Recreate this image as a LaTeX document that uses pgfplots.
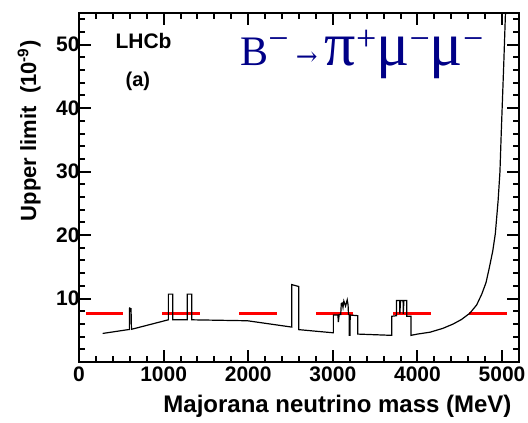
\documentclass[border=0pt]{standalone}
\usepackage{fontspec}
\setmainfont{Liberation Sans}
\newfontfamily\tnr{Liberation Serif}
\newfontfamily\dvs{DejaVu Serif}
\usepackage{pgfplots}
\pgfplotsset{compat=1.18}
\definecolor{navyb}{RGB}{0,0,135}
\newcommand{\sups}[1]{\raisebox{15pt}{\fontsize{36}{36}\selectfont #1}}
\begin{document}
\begin{tikzpicture}
\begin{axis}[
  scale only axis, width=440pt, height=349pt,
  xmin=0, xmax=5200, ymin=0, ymax=55,
  xtick={0,1000,...,5000}, ytick={10,20,...,50},
  minor xtick={0,200,...,5200}, minor ytick={0,2,...,54},
  tick align=inside,
  major tick length=12pt, minor tick length=6pt,
  every major tick/.style={line width=2pt, black},
  every minor tick/.style={line width=2pt, black},
  axis line style={line width=2.5pt},
  /pgf/number format/assume math mode=true,
  /pgf/number format/1000 sep={},
  ticklabel style={font=\bfseries\fontsize{21}{21}\selectfont},
  xticklabel style={yshift=-1pt},
  yticklabel style={xshift=4pt},
  xlabel={Majorana neutrino mass (MeV)},
  ylabel={Upper limit\ \ (10\textsuperscript{-9})},
  xlabel style={at={(axis description cs:0.991,-0.146)}, anchor=base east, font=\bfseries\fontsize{24}{24}\selectfont},
  ylabel style={at={(axis description cs:-0.0977,0.931)}, anchor=base east, rotate=0, font=\bfseries\fontsize{22}{22}\selectfont},
  unbounded coords=jump,
  clip=true,
]
\addplot[red, line width=3pt] coordinates {
 (83,7.7) (520,7.7) (nan,nan)
 (981,7.7) (1430,7.7) (nan,nan)
 (1891,7.7) (2340,7.7) (nan,nan)
 (2801,7.7) (3239,7.7) (nan,nan)
 (3712,7.7) (4161,7.7) (nan,nan)
 (4610,7.7) (5059,7.7)
};
\addplot[black, line width=1.2pt] coordinates {
 (280,4.5) (580,5.1) (595,5.1) (598,8.5) (615,8.4) (620,5.15)
 (1056,6.65) (1056,10.7) (1107,10.7) (1107,6.65) (1280,6.65) (1280,10.7) (1332,10.7) (1332,6.65)
 (1990,6.5) (2514,5.5) (2514,12.2) (2597,11.9) (2597,5.1)
 (3006,4.6) (3006,7.4) (3060,7.4) (3065,6.3) (3075,7.5) (3093,7.5) (3100,9.2) (3110,9.3) (3120,8.6)
 (3130,9.6) (3150,8.8) (3170,9.8) (3180,9.0) (3185,7.5) (3193,7.4) (3195,4.2) (3203,4.2) (3205,7.4)
 (3294,7.3) (3294,4.4) (3695,4.2) (3695,7.2) (3752,7.3) (3752,9.7) (3790,9.7) (3792,7.6) (3800,9.7)
 (3830,9.7) (3832,7.6) (3840,9.7) (3873,9.7) (3873,7.2) (3924,7.2) (3924,4.2)
 (4000,4.4) (4150,4.7) (4300,5.3) (4424,6.0) (4520,6.7) (4620,7.7) (4700,9.0) (4760,10.7)
 (4810,12.5) (4850,14.9) (4890,17.5) (4920,20.2) (4953,25.4) (4975,30) (4990,36) (5005,41.5)
 (5020,47) (5040,55)
};
\node[anchor=base west, font=\bfseries\fontsize{21}{21}\selectfont] at (axis description cs:0.075,0.8997) {LHCb};
\node[anchor=base west, font=\bfseries\fontsize{20}{20}\selectfont] at (axis description cs:0.098,0.788) {(a)};
\node[anchor=base west, text=navyb, font=\tnr\fontsize{42}{42}\selectfont, inner sep=0pt] at (axis description cs:0.366,0.851)
  {B\sups{−}{\dvs\fontsize{26}{26}\selectfont\;→\;}{\fontsize{62}{62}\selectfont π}\sups{+}{\fontsize{62}{62}\selectfont μ}\sups{−}{\fontsize{62}{62}\selectfont μ}\sups{−}};
\coordinate (sw) at (rel axis cs:0,0);
\end{axis}
\pgfresetboundingbox
\path (sw) ++(-79pt,-61pt) rectangle ++(528pt,423pt);
\end{tikzpicture}
\end{document}
